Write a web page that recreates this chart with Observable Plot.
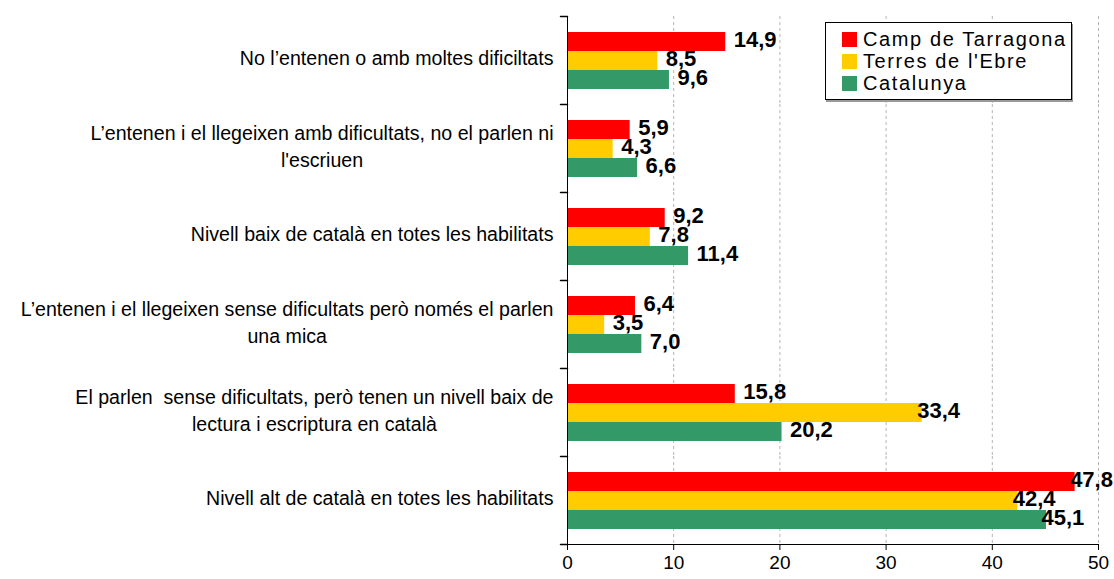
<!DOCTYPE html>
<html>
<head>
<meta charset="utf-8">
<script src="https://cdn.jsdelivr.net/npm/d3@7"></script>
<script src="https://cdn.jsdelivr.net/npm/@observablehq/plot@0.6"></script>
<style>
  html, body { margin: 0; padding: 0; background: #fff; }
  #wrap { position: relative; width: 1114px; height: 579px; font-family: "Liberation Sans", Arial, sans-serif; }
  #legend { position: absolute; left: 825px; top: 22px; width: 247px; height: 78px; border: 1px solid #000; background: #fff; box-shadow: 1px 2px 0 #999; box-sizing: border-box; padding: 5px 0 0 16px; }
  .row { display: flex; align-items: center; height: 22px; font-size: 20px; letter-spacing: 1.6px; color: #000; }
  .sw { width: 15px; height: 15px; margin-right: 6px; flex: none; }
</style>
</head>
<body>
<div id="wrap"><div id="chart"></div><div id="legend"></div></div>
<script>
const categories = [
  "No l\u2019entenen o amb moltes dificiltats",
  "L\u2019entenen i el llegeixen amb dificultats, no el parlen ni\nl'escriuen",
  "Nivell baix de català en totes les habilitats",
  "L\u2019entenen i el llegeixen sense dificultats però només el parlen\nuna mica",
  "El parlen  sense dificultats, però tenen un nivell baix de\nlectura i escriptura en català",
  "Nivell alt de català en totes les habilitats"
];
const series = ["Camp de Tarragona", "Terres de l'Ebre", "Catalunya"];
const campTarragona = [14.9, 5.9, 9.2, 6.4, 15.8, 47.8];
const terresEbre = [8.5, 4.3, 7.8, 3.5, 33.4, 42.4];
const catalunya = [9.6, 6.6, 11.4, 7.0, 20.2, 45.1];
const colors = ["#ff0000", "#ffcc00", "#339966"];
const xTicks = [0, 10, 20, 30, 40, 50];

const seriesValues = [campTarragona, terresEbre, catalunya];
const data = categories.flatMap((c, i) => series.map((s, j) => ({category: c, series: s, value: seriesValues[j][i]})));
const fmt = v => d3.format(".1f")(v).replace(".", ",");

const canvas = document.createElement("canvas");
const ctx = canvas.getContext("2d");
const labelSize = 19.6;
ctx.font = `${labelSize}px "Liberation Sans"`;

const tickShape = {draw(context, l) { context.moveTo(0, 0); context.lineTo(0, -l); }};

const labelMarks = categories.map(c => {
  const w = Math.max(...c.split("\n").map(l => ctx.measureText(l).width));
  return Plot.text([c], {fy: d => d, text: d => d, frameAnchor: "left", textAnchor: "middle", dx: -(14 + w / 2), dy: -4, lineHeight: 1.38, fontSize: labelSize, fill: "#000"});
});

const chart = Plot.plot({
  width: 1114, height: 579,
  marginLeft: 567, marginRight: 16, marginTop: 15, marginBottom: 35,
  style: {fontFamily: "Liberation Sans, Arial, sans-serif", fontSize: "19px", color: "#000", background: "#fff"},
  x: {domain: [0, 50], ticks: xTicks, tickSize: 6, tickPadding: 5, label: null},
  y: {domain: series, axis: null, paddingInner: 0, paddingOuter: 0.74},
  fy: {domain: categories, axis: null, padding: 0},
  color: {domain: series, range: colors},
  marks: [
    Plot.gridX(xTicks.filter(t => t > 0), {stroke: "#b4b4b4", strokeOpacity: 1, strokeDasharray: "3,3"}),
    Plot.barX(data, {x: "value", y: "series", fy: "category", fill: "series"}),
    Plot.text(data.filter(d => d.value <= 30), {x: "value", y: "series", fy: "category", text: d => fmt(d.value), textAnchor: "start", dx: 8, dy: -2, fontSize: 22, fontWeight: "bold", fill: "#000"}),
    Plot.text(data.filter(d => d.value > 30), {x: "value", y: "series", fy: "category", text: d => fmt(d.value), textAnchor: "start", dx: -5, dy: -2, fontSize: 22, fontWeight: "bold", fill: "#000"}),
    Plot.ruleX([0], {stroke: "#000"}),
    Plot.frame({anchor: "bottom", facetAnchor: "bottom", stroke: "#000"}),
    Plot.vector(categories, {fy: d => d, frameAnchor: "top-left", length: 7, rotate: -90, anchor: "start", shape: tickShape, stroke: "#000"}),
    Plot.vector(categories.slice(-1), {fy: d => d, frameAnchor: "bottom-left", length: 7, rotate: -90, anchor: "start", shape: tickShape, stroke: "#000"}),
    ...labelMarks
  ]
});
document.getElementById("chart").appendChild(chart);

const legend = document.getElementById("legend");
series.forEach((s, i) => {
  const row = document.createElement("div");
  row.className = "row";
  const sw = document.createElement("span");
  sw.className = "sw";
  sw.style.background = colors[i];
  row.appendChild(sw);
  row.appendChild(document.createTextNode(s));
  legend.appendChild(row);
});
</script>
</body>
</html>
